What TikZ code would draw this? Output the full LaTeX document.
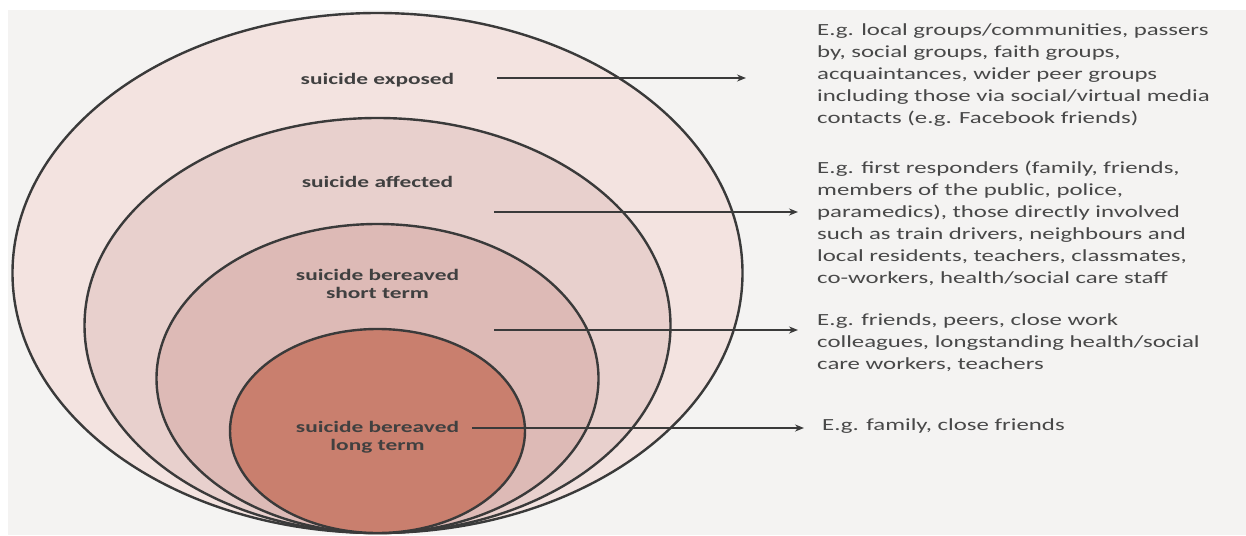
\documentclass[tikz,border=0pt]{standalone}
\usepackage{fontspec}
\setmainfont{Carlito}[FakeStretch=1.46]
\usetikzlibrary{arrows.meta}
\definecolor{paper}{HTML}{F4F3F2}
\definecolor{ringA}{HTML}{F3E3E0}
\definecolor{ringB}{HTML}{E8D0CD}
\definecolor{ringC}{HTML}{DDBAB6}
\definecolor{ringD}{HTML}{C97F6E}
\definecolor{inkline}{HTML}{3A3A3A}
\definecolor{inktext}{HTML}{484848}
\definecolor{inklabel}{HTML}{404040}
\tikzset{
  ring/.style={draw=inkline, line width=2.4pt},
  lab/.style={font=\bfseries\fontsize{16}{18}\selectfont, text=inklabel, align=center, inner sep=0pt},
  desc/.style={font=\fontsize{17}{22}\selectfont, text=inktext, align=left, anchor=north west, inner sep=0pt},
  pointer/.style={draw=inkline, line width=1.5pt, -{Stealth[length=9pt,width=7pt]}}
}
\begin{document}
\begin{tikzpicture}[x=1pt,y=-1pt]
\useasboundingbox (0,0) rectangle (1246,535);
\fill[white] (0,0) rectangle (1246,535);
\fill[paper] (8,10) rectangle (1246,535);
% rings
\draw[ring, fill=ringA] (377.5,273) ellipse [x radius=365, y radius=260];
\draw[ring, fill=ringB] (377.5,325.5) ellipse [x radius=293, y radius=207.5];
\draw[ring, fill=ringC] (377.5,378.5) ellipse [x radius=221, y radius=154.5];
\draw[ring, fill=ringD] (377.5,431) ellipse [x radius=147.5, y radius=102];
% ring labels
\node[lab, anchor=base] (exposed) at (377.5,84) {suicide exposed};
\node[lab, anchor=base] (affected) at (377.5,187) {suicide affected};
\node[lab] (short) at (377.5,284) {suicide bereaved\\short term};
\node[lab] (long) at (377.5,437) {suicide bereaved\\long term};
% descriptions
\node[desc] (dexp) at (817,23) {E.g. local groups/communities, passers\\by, social groups, faith groups,\\acquaintances, wider peer groups\\including those via social/virtual media\\contacts (e.g. Facebook friends)};
\node[desc] (daff) at (817,161) {E.g. first responders (family, friends,\\members of the public, police,\\paramedics), those directly involved\\such as train drivers, neighbours and\\local residents, teachers, classmates,\\co-workers, health/social care staff};
\node[desc] (dshort) at (817,313) {E.g. friends, peers, close work\\colleagues, longstanding health/social\\care workers, teachers};
\node[desc] (dlong) at (822,418) {E.g. family, close friends};
% connectors
\coordinate (s1) at (497,78);  \coordinate (e1) at (746,78);
\coordinate (s2) at (494,212); \coordinate (e2) at (798,212);
\coordinate (s3) at (494,330); \coordinate (e3) at (798,330);
\coordinate (s4) at (472,428); \coordinate (e4) at (804,428);
\draw[pointer] (s1) -- (e1);
\draw[pointer] (s2) -- (e2);
\draw[pointer] (s3) -- (e3);
\draw[pointer] (s4) -- (e4);
\end{tikzpicture}
\end{document}
